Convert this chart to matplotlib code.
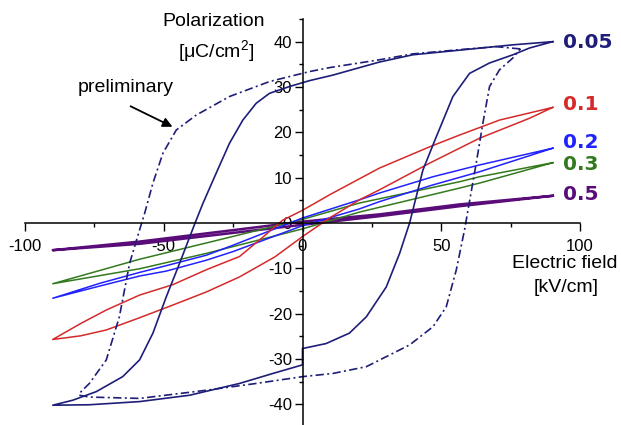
import matplotlib.pyplot as plt
from matplotlib.ticker import MultipleLocator

plt.rcParams['font.family'] = 'Liberation Sans'
plt.rcParams['mathtext.fontset'] = 'custom'
plt.rcParams['mathtext.rm'] = 'Liberation Sans'
plt.rcParams['axes.unicode_minus'] = False

# loop for 0.05 (solid): descending branch then ascending branch
E_005 = [90.2, 75.8, 57.8, 39.7, 27.7, 10.8, 2.5, -4.7, -11.9, -16.7, -21.5, -26.3, -31.1, -35.9, -38.9,
         -44.3, -49.1, -53.9, -58.7, -64.8, -74.3, -82.8, -90.0,
         -76.8, -58.7, -40.7, -22.7, -10.7, 0.0, 0.0, 8.5, 16.9, 23.0, 30.2, 35.0, 38.6, 43.4, 48.2,
         54.2, 60.2, 67.4, 75.8, 81.8, 90.2]
P_005 = [40.0, 39.3, 38.2, 37.1, 35.5, 32.6, 31.4, 30.1, 28.6, 26.4, 22.7, 17.6, 11.0, 4.3, -0.3,
         -8.9, -16.3, -24.3, -30.2, -33.9, -37.2, -39.1, -40.2,
         -40.1, -39.4, -38.0, -35.4, -33.2, -31.3, -27.7, -26.6, -24.3, -20.7, -14.1, -6.7, 0.0, 11.7, 19.0,
         27.9, 33.0, 35.3, 37.1, 38.6, 40.0]

# preliminary loop (dash-dot)
E_pre = [78.5, 69.8, 57.8, 39.7, 27.7, 10.0, 2.5, -11.9, -26.3, -38.3, -45.5, -50.3, -53.9, -56.9, -58.7,
         -62.3, -66.0, -70.7, -76.8, -79.8, -80.5,
         -76.8, -58.7, -34.7, -16.7, 0.0, 10.9, 23.0, 38.6, 47.0, 51.8, 55.4, 58.4, 62.6, 65.0, 67.4,
         71.0, 75.8, 78.5]
P_pre = [38.4, 38.9, 38.3, 37.3, 36.0, 34.3, 33.4, 31.2, 27.9, 23.8, 20.5, 15.4, 8.8, 2.1, -1.5,
         -8.9, -20.7, -30.2, -35.4, -37.2, -38.0,
         -38.4, -38.7, -36.9, -35.4, -33.9, -33.2, -31.7, -26.9, -22.9, -18.5, -10.4, -1.5, 13.2, 22.0, 30.1,
         33.8, 36.4, 38.4]

E_01 = [90.2, 71.0, 56.6, 45.8, 27.7, 10.0, 0.0, -7.2, -15.0, -22.7, -34.6, -46.7, -58.7, -70.7, -80.0, -90.0,
        -80.0, -70.7, -58.7, -46.7, -34.6, -22.7, -10.0, 0.0, 10.0, 20.5, 27.7, 45.8, 63.8, 81.8, 90.2]
P_01 = [25.5, 22.7, 19.4, 16.8, 12.1, 6.3, 2.8, 0.6, -3.5, -7.4, -10.3, -13.6, -15.9, -19.2, -22.2, -25.7,
        -24.9, -23.6, -20.9, -18.1, -15.2, -11.9, -7.5, -3.0, 1.2, 5.1, 7.3, 13.2, 18.7, 23.1, 25.5]

E_02 = [90.2, 63.8, 47.0, 27.7, 20.5, 0.0, -25.0, -34.6, -49.0, -58.7, -73.0, -90.0,
        -73.0, -58.7, -49.0, -34.6, -25.0, 0.0, 20.5, 27.7, 47.0, 63.8, 90.2]
P_02 = [16.5, 12.8, 10.2, 6.6, 5.1, 1.1, -4.9, -7.1, -9.4, -10.9, -13.3, -16.6,
        -13.9, -11.7, -10.6, -8.2, -6.3, -0.6, 3.1, 4.7, 8.4, 11.3, 16.5]

E_03 = [90.2, 63.8, 56.6, 20.5, 0.0, -34.6, -58.7, -90.0, -58.7, -34.6, 0.0, 20.5, 56.6, 63.8, 90.2]
P_03 = [13.3, 10.2, 9.1, 4.4, 0.8, -4.4, -8.0, -13.4, -10.1, -6.7, -1.3, 2.4, 7.7, 8.8, 13.3]

E_05 = [90.2, 56.6, 27.7, 0.0, -58.7, -90.0, -58.7, 0.0, 27.7, 56.6, 90.2]
P_05 = [6.0, 4.1, 1.9, 0.3, -4.1, -6.0, -4.6, -0.4, 1.5, 3.7, 6.0]

labels = ['0.05', '0.1', '0.2', '0.3', '0.5']
x_ticks = [-100, -50, 0, 50, 100]
y_ticks = [-40, -30, -20, -10, 0, 10, 20, 30, 40]

navy = '#1e1e78'
red = '#d42a2a'
blue = '#2222ff'
green = '#337a1e'
purple = '#5a0c78'

fig = plt.figure(figsize=(6.21, 4.25), dpi=100)
ax = fig.add_axes([25 / 621, 0.0007, 555 / 621, 0.9546])

ax.plot(E_05, P_05, color=purple, lw=1.8)
ax.plot(E_03, P_03, color=green, lw=1.1)
ax.plot(E_02, P_02, color=blue, lw=1.1)
ax.plot(E_01, P_01, color=red, lw=1.1)
ax.plot(E_pre, P_pre, color=navy, lw=1.2, linestyle=(0, (5, 2, 1.2, 2)))
ax.plot(E_005, P_005, color=navy, lw=1.2)

ax.set_xlim(-100, 100)
ax.set_ylim(-44.5, 45)
for s in ['top', 'right']:
    ax.spines[s].set_visible(False)
ax.spines['left'].set_position(('data', 0))
ax.spines['bottom'].set_position(('data', 0))
ax.spines['left'].set_linewidth(1.1)
ax.spines['bottom'].set_linewidth(1.1)
ax.set_xticks(x_ticks)
ax.set_yticks(y_ticks)
ax.xaxis.set_minor_locator(MultipleLocator(25))
ax.yaxis.set_minor_locator(MultipleLocator(5))
ax.tick_params(which='major', direction='out', length=5.5, width=1.0, labelsize=12, pad=2)
ax.tick_params(axis='x', which='major', pad=6)
ax.tick_params(which='minor', direction='out', length=3.2, width=1.0)

fig.text(214 / 621, 1 - 22 / 425, 'Polarization', fontsize=14, ha='center', va='center')
fig.text(216 / 621, 1 - 52 / 425, '[μC/cm$^2$]', fontsize=14, ha='center', va='center')
fig.text(565 / 621, 1 - 263 / 425, 'Electric field', fontsize=14, ha='center', va='center')
fig.text(566 / 621, 1 - 287 / 425, '[kV/cm]', fontsize=14, ha='center', va='center')

fig.text(126 / 621, 1 - 87 / 425, 'preliminary', fontsize=14, ha='center', va='center')
ax.annotate('', xy=(175, 425 - 128), xycoords='figure pixels',
            xytext=(128, 425 - 105), textcoords='figure pixels',
            arrowprops=dict(arrowstyle='-|>', color='black', lw=1.3, mutation_scale=14))

label_y = [43, 105, 143, 165, 194]
label_colors = [navy, red, blue, green, purple]
for lab, yy, c in zip(labels, label_y, label_colors):
    fig.text(563 / 621, 1 - yy / 425, lab, fontsize=14.5, fontweight='bold', color=c,
             family='DejaVu Sans', ha='left', va='center')

plt.savefig('out.png', dpi=100)
